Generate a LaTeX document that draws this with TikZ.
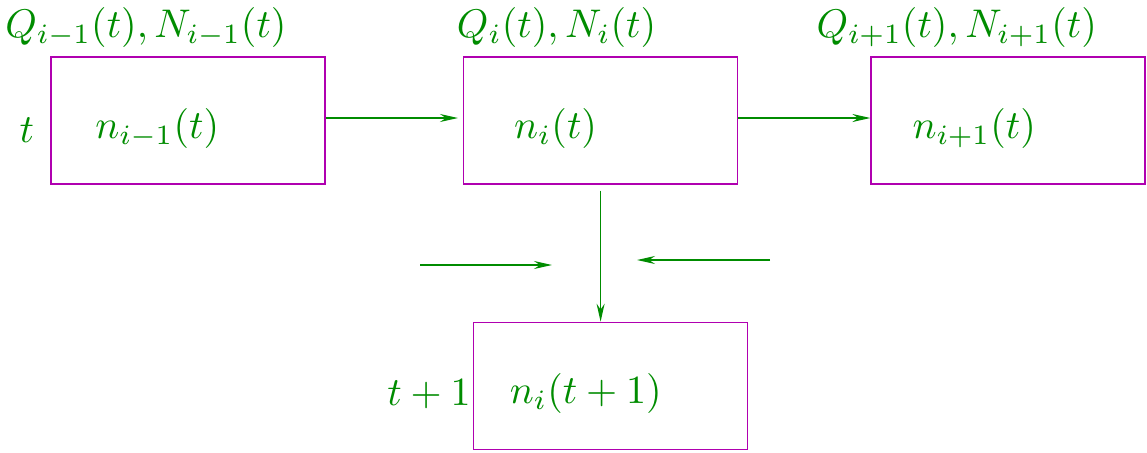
\documentclass[tikz,border=0pt]{standalone}
\usetikzlibrary{positioning,arrows.meta}
\definecolor{flowgreen}{RGB}{0,140,0}
\definecolor{boxmagenta}{RGB}{176,0,176}
\begin{document}
\begin{tikzpicture}[
                            node distance=34pt,
                            >={Stealth[length=4.5pt,width=2pt]},
                            cell/.style={rectangle,draw=boxmagenta,minimum width=68.5pt,minimum height=31.75pt,inner sep=0pt},
                            every node/.style={text=flowgreen}
                        ]
                        \useasboundingbox (0,0) rectangle (286.75pt,113pt);
                        % Blocks
                        \node [cell] (Bprev) at (47pt,82.9pt) {};
                        \node [cell,right=34.25pt of Bprev] (Bcur) {};
                        \node [cell,right=33pt of Bcur] (Bnext) {};
                        \node [cell,below=34.25pt of Bcur,xshift=2.5pt] (Bnew) {};

                        % Contents
                        \node [anchor=west] (nprev) at ([xshift=7.75pt,yshift=-2pt]Bprev.west) {$n_{i-1}(t)$};
                        \node [anchor=west] (ncur) at ([xshift=9.3pt,yshift=-2pt]Bcur.west) {$n_i(t)$};
                        \node [anchor=west] (nnext) at ([xshift=7pt,yshift=-2pt]Bnext.west) {$n_{i+1}(t)$};
                        \node [anchor=west] (nnew) at ([xshift=5.75pt,yshift=-1.8pt]Bnew.west) {$n_i(t+1)$};

                        % Labels
                        \node [anchor=base west] (QNprev) at ([xshift=-14.75pt,yshift=4.75pt]Bprev.north west) {$Q_{i-1}(t),N_{i-1}(t)$};
                        \node [anchor=base west] (QNcur) at ([xshift=-5pt,yshift=4.75pt]Bcur.north west) {$Q_i(t),N_i(t)$};
                        \node [anchor=base west] (QNnext) at ([xshift=-17pt,yshift=4.75pt]Bnext.north west) {$Q_{i+1}(t),N_{i+1}(t)$};
                        \node [anchor=east] (tnow) at ([xshift=-0.5pt,yshift=-2.5pt]Bprev.west) {$t$};
                        \node [anchor=east] (tnext) at ([xshift=3pt,yshift=-2pt]Bnew.west) {$t+1$};

                        % Free ends
                        \coordinate (inL) at (105pt,46.75pt);
                        \coordinate (inLend) at (138pt,46.75pt);
                        \coordinate (inR) at (192.5pt,48pt);
                        \coordinate (inRend) at (159.25pt,48pt);

                        % Connections
                        \draw [->,flowgreen] ([yshift=0.6pt]Bprev.east) -- ([xshift=-1.2pt,yshift=0.6pt]Bcur.west);
                        \draw [->,flowgreen] ([yshift=0.6pt]Bcur.east) -- ([yshift=0.6pt]Bnext.west);
                        \draw [->,flowgreen] ([yshift=-1.5pt]Bcur.south) -- (Bcur.south |- Bnew.north);
                        \draw [->,flowgreen] (inL) -- (inLend);
                        \draw [->,flowgreen] (inR) -- (inRend);
                    \end{tikzpicture}
\end{document}
